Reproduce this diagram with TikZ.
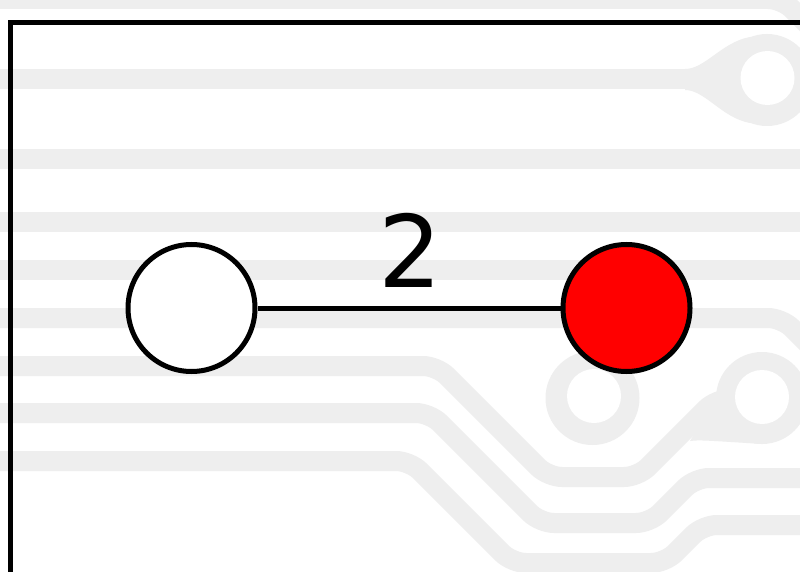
\documentclass[tikz,border=0pt]{standalone}
\usepackage{fontspec}
\setmainfont{DejaVu Sans}
\definecolor{tracegray}{RGB}{238,238,238}
\definecolor{nodered}{RGB}{255,0,0}
\begin{document}
\begin{tikzpicture}[x=1pt,y=-1pt,
  tracestyle/.style={draw=tracegray,line width=20pt,rounded corners=14pt},
  vertex/.style={circle,draw=black,line width=5pt,minimum size=127pt,inner sep=0pt},
  edgeline/.style={draw=black,line width=5pt},
  framestyle/.style={draw=black,line width=5pt}]
\useasboundingbox (0,0) rectangle (800,572);
\fill[white] (0,0) rectangle (800,572);
% background traces
\draw[tracestyle] (-20,-1) -- (782,-1) -- (822,39);
\draw[tracestyle] (-20,79) -- (700,79);
\fill[tracegray] (685,69) .. controls (705,69) and (722,42) .. (750,37) -- (767,80) -- (750,123) .. controls (722,118) and (705,90) .. (685,90) -- cycle;
\fill[tracegray] (767,80) circle[radius=46];
\fill[white] (767.5,78) circle[radius=27];
\draw[tracestyle] (-20,159) -- (820,159);
\draw[tracestyle] (-20,222) -- (820,222);
\draw[tracestyle] (-20,270) -- (820,270);
\draw[tracestyle] (-20,318) -- (782,318) -- (822,358);
% trace to the right pad
\draw[tracestyle] (-20,366) -- (437,366) -- (548,477) -- (638,477) -- (716,399) -- (762,399);
\fill[tracegray] (690,441) .. controls (700,440) .. (762,444) -- (762,398) -- (716,398) -- cycle;
\fill[tracegray] (762,398) circle[radius=46];
\fill[white] (762,397) circle[radius=27];
% middle pad
\fill[tracegray] (592.5,398) circle[radius=47];
\fill[white] (594,396) circle[radius=27];
% lower traces
\draw[tracestyle] (-20,413) -- (430,413) -- (540,523) -- (650,523) -- (695,478) -- (820,478);
\draw[tracestyle] (-20,461) -- (410,461) -- (512,563) -- (665,563) -- (703,525) -- (820,525);
% frame
\draw[framestyle] (800,23) -- (10,23) -- (10,580);
% graph
\node[vertex,fill=white] (a) at (191.5,308) {};
\node[vertex,fill=nodered] (b) at (626.5,308) {};
\draw[edgeline] (a) -- (b);
\node[inner sep=0pt,font=\fontsize{100}{100}\selectfont] (lbl) at (410.5,250) {2};
\end{tikzpicture}
\end{document}
